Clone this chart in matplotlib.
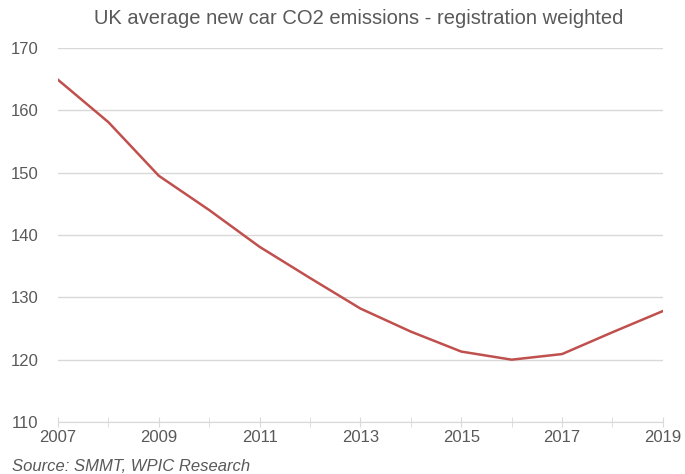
import matplotlib
matplotlib.use("Agg")
import matplotlib.pyplot as plt

plt.rcParams['font.family'] = ['Liberation Sans', 'DejaVu Sans']

years = [2007, 2008, 2009, 2010, 2011, 2012, 2013, 2014, 2015, 2016, 2017, 2018, 2019]
co2 = [164.9, 158.1, 149.5, 144.0, 138.1, 133.1, 128.2, 124.5, 121.3, 120.0, 120.9, 124.4, 127.8]
xtick_years = [2007, 2009, 2011, 2013, 2015, 2017, 2019]
ytick_vals = [110, 120, 130, 140, 150, 160, 170]

text_grey = '#595959'
grid_grey = '#d9d9d9'

fig = plt.figure(figsize=(6.85, 4.74), dpi=100)
ax = fig.add_axes([0.0847, 0.1097, 0.883, 0.789])

ax.plot(years, co2, color='#c0504d', linewidth=1.8)

ax.set_xlim(2007, 2019)
ax.set_ylim(110, 170)
ax.set_xticks(years, minor=True)
ax.set_xticks(xtick_years)
ax.set_yticks(ytick_vals)
ax.grid(axis='y', color=grid_grey, linewidth=1)
ax.set_axisbelow(True)

for s in ['top', 'right', 'left']:
    ax.spines[s].set_visible(False)
ax.spines['bottom'].set_color(grid_grey)
ax.spines['bottom'].set_zorder(0)

ax.tick_params(axis='y', length=0, pad=14, labelsize=12, labelcolor=text_grey)
ax.tick_params(axis='x', which='both', direction='inout', length=7, color=grid_grey,
               labelsize=12, labelcolor=text_grey, pad=2)
ax.tick_params(axis='x', which='minor', labelbottom=False)

fig.text(0.523, 0.962, 'UK average new car CO2 emissions - registration weighted',
         ha='center', va='center', fontsize=14.5, color=text_grey)
fig.text(0.017, 0.016, 'Source: SMMT, WPIC Research', ha='left', va='center',
         fontsize=12, style='italic', color=text_grey)

fig.savefig('out.png', dpi=100)
